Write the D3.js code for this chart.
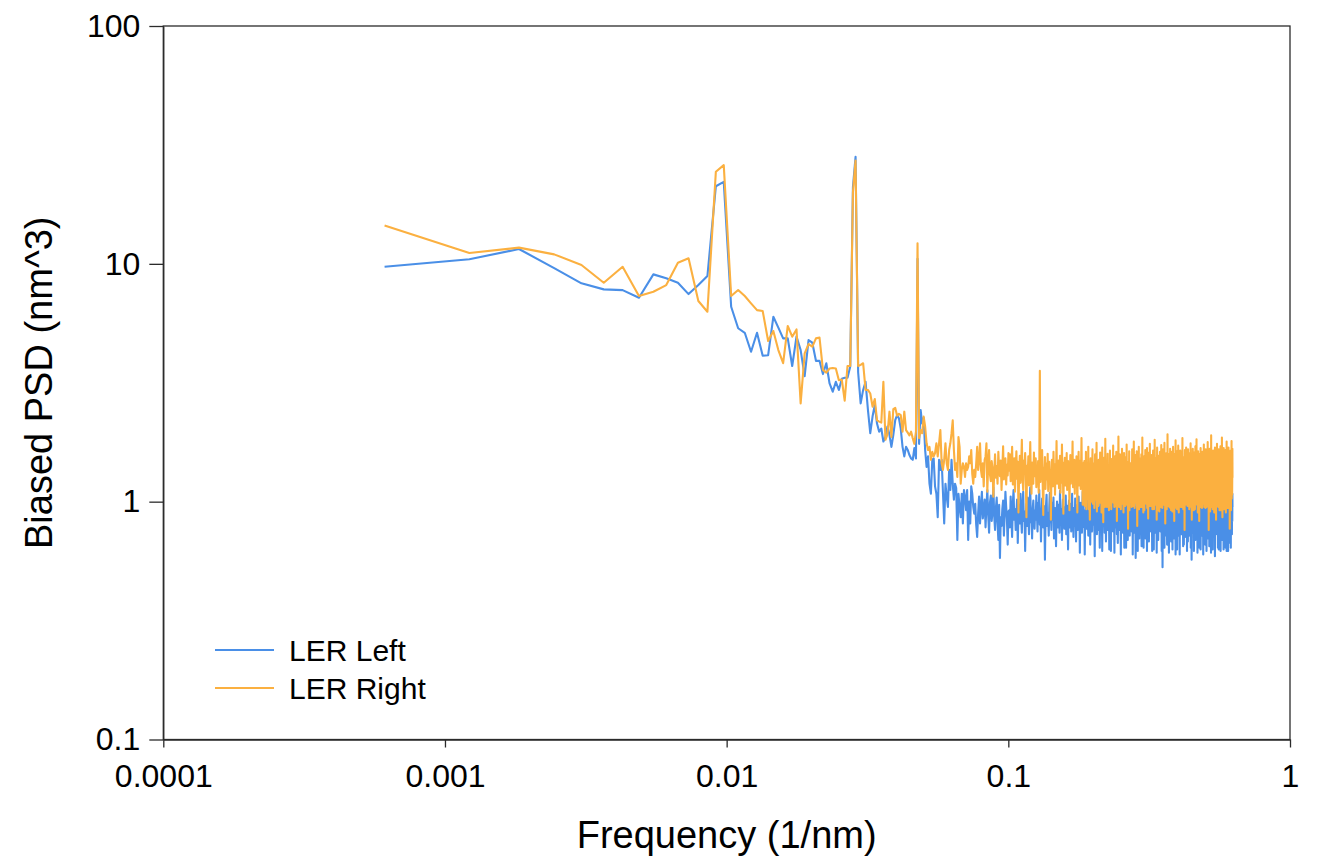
<!DOCTYPE html>
<html>
<head>
<meta charset="utf-8">
<script src="https://cdn.jsdelivr.net/npm/d3@7"></script>
<style>
  html, body { margin: 0; padding: 0; background: #fff; }
  svg { display: block; font-family: Arial, "Liberation Sans", sans-serif; }
</style>
</head>
<body>
<svg id="chart" width="1317" height="862"></svg>
<script>
// Line-edge roughness power spectral density, one-sided, for the left and right edges.
// Edge sampled every 0.8 nm over 2048 points -> bins k/(2048*0.8), k = 1..1024.
const sampleSpacing = 0.8;   // nm
const nSamples = 2048;

const seriesNames = ["LER Left", "LER Right"];
const seriesColors = ["#4a8fe7", "#fbb040"];

const xTickValues = [0.0001, 0.001, 0.01, 0.1, 1];
const xTickLabels = ["0.0001", "0.001", "0.01", "0.1", "1"];
const yTickValues = [0.1, 1, 10, 100];
const yTickLabels = ["0.1", "1", "10", "100"];

// Biased PSD (nm^3), LER Left
const lerLeft = [
  9.72, 10.45, 11.54, 9.6, 8.28, 7.81, 7.75, 7.20, 9.03, 8.69,
  8.33, 7.46, 8.14, 8.89, 21.2, 22.1, 6.60, 5.36, 5.13, 4.27,
  5.13, 4.11, 4.13, 5.99, 5.39, 4.86, 4.86, 3.72, 4.94, 4.34,
  3.37, 4.78, 4.66, 3.91, 3.91, 3.44, 3.82, 3.14, 2.90, 3.19,
  2.95, 3.29, 3.32, 3.32, 3.70, 21.0, 28.2, 3.5, 2.59, 2.95,
  3.19, 2.43, 1.94, 2.28, 2.55, 2.13, 1.97, 2.03, 1.79, 1.87,
  2.07, 1.91, 1.70, 1.91, 2.20, 2.31, 2.24, 2.03, 1.70, 1.55,
  1.70, 1.65, 1.57, 1.52, 1.50, 1.68, 1.52, 10.5,
  1.75, 2.43, 2.13, 2.25, 1.65, 1.40, 1.55, 1.19, 1.08, 1.50,
  1.52, 1.16, 1.08, 0.86, 1.50, 1.36, 1.50, 1.10, 0.81, 1.19,
  1.05, 0.95, 1.36, 1.12, 1.50, 1.19, 1.02, 1.19, 1.14, 0.69,
  1.08, 0.95, 0.86, 1.08, 0.81, 1.12, 1.05, 0.92, 1.12, 0.69,
  1.00, 0.81, 1.16, 1.08, 0.95, 0.89, 0.98, 0.80, 0.71, 0.89,
  1.05, 0.81, 0.95, 1.10, 0.85, 0.92, 1.02, 0.78, 0.96, 1.12,
  0.88, 0.74, 0.99, 1.06, 0.83, 0.91, 1.15, 0.87, 0.76, 0.94,
  1.04, 0.82, 0.69, 0.97, 0.58, 0.86, 0.79, 0.93, 1.01, 0.72,
  0.88, 1.10, 0.95, 0.84, 0.66, 0.91,
  0.92, 0.78, 1.05, 0.86, 0.71, 0.99, 1.12, 0.84, 0.93, 0.76, 0.88, 1.02, 0.67, 0.90, 0.97, 0.81, 1.08, 0.85, 0.74, 0.95,
  1.10, 0.83, 0.91, 0.62, 0.87, 0.98, 0.79, 1.04, 0.89, 0.73, 0.96, 1.15, 0.82, 0.88, 0.70, 0.94, 1.01, 0.86, 0.77, 0.92,
  0.84, 1.06, 0.90, 0.75, 0.99, 0.87, 1.12, 0.80, 0.93, 0.68, 0.91, 1.03, 0.85, 0.78, 0.96, 0.88, 0.57, 0.83, 0.97, 1.07,
  0.79, 0.90, 0.86, 0.72, 0.95, 1.09, 0.82, 0.88, 0.76, 0.99, 0.84, 0.92, 1.04, 0.70, 0.87, 0.94, 0.81, 0.65, 0.89, 1.00,
  0.85, 0.78, 0.97, 0.91, 0.74, 1.11, 0.86, 0.80, 0.93, 0.69, 0.88, 1.02, 0.83, 0.95, 0.77, 0.90, 0.84, 1.06, 0.73, 0.87,
  0.96, 0.82, 0.63, 0.89, 1.01, 0.85, 0.78, 0.92, 0.98, 0.75, 0.86, 1.08, 0.80, 0.90, 0.71, 0.94, 0.87, 0.79, 1.03, 0.84,
  0.68, 0.91, 0.85, 0.97, 0.76, 0.88, 1.05, 0.82, 0.93, 0.61, 0.86, 0.99, 0.80, 0.89, 0.74, 0.95, 1.10, 0.83, 0.87, 0.78,
  0.92, 0.60, 0.85, 1.00, 0.81, 0.94, 0.77, 0.88, 1.06, 0.84, 0.72, 0.90, 0.96, 0.79, 0.86, 0.66, 0.93, 1.02, 0.82, 0.89,
  0.75, 0.97, 0.84, 0.91, 1.09, 0.80, 0.87, 0.59, 0.94, 0.85, 0.78, 1.01, 0.88, 0.73, 0.92, 0.83, 0.99, 0.76, 0.86, 0.95,
  0.81, 0.64, 0.89, 1.04, 0.85, 0.77, 0.93, 0.88, 0.62, 0.96, 1.07, 0.82, 0.87, 0.79, 0.90, 0.74, 0.98, 0.84, 0.92, 0.68,
  0.86, 1.00, 0.80, 0.91, 0.76, 0.87, 1.12, 0.83, 0.94, 0.63, 0.88, 0.97, 0.79, 0.85, 0.62, 0.90, 1.03, 0.84, 0.77, 0.93,
  0.89, 0.75, 0.98, 0.82, 0.87, 0.61, 0.95, 1.06, 0.81, 0.90, 0.78, 0.86, 0.99, 0.73, 0.92, 0.84, 0.67, 0.88, 1.01, 0.80,
  0.94, 0.85, 0.76, 1.08, 0.83, 0.89, 0.60, 0.97, 0.86, 0.79, 0.93, 1.02, 0.82, 0.74, 0.90, 0.87, 0.96, 0.78, 0.64, 0.88,
  1.00, 0.81, 0.92, 0.85, 0.64, 0.95, 0.88, 1.10, 0.80, 0.86, 0.69, 0.91, 0.98, 0.83, 0.77, 0.94, 0.87, 0.72, 1.04, 0.84,
  0.90, 0.79, 0.86, 0.97, 0.75, 0.89, 0.82, 1.05, 0.60, 0.93, 0.85, 0.78, 0.96, 0.88, 0.74, 1.01, 0.83, 0.91, 0.80, 0.58,
  0.87, 0.95, 0.81, 0.76, 0.99, 0.86, 0.90, 0.62, 1.07, 0.84, 0.79, 0.92, 0.88, 0.70, 0.97, 0.85, 0.82, 1.03, 0.77, 0.89,
  0.93, 0.80, 0.65, 0.88, 0.96, 0.83, 0.78, 1.09, 0.86, 0.91, 0.64, 0.89, 0.99, 0.81, 0.87, 0.76, 0.94, 0.84, 0.70, 1.00,
  0.85, 0.92, 0.79, 0.88, 0.62, 0.97, 1.04, 0.82, 0.89, 0.77, 0.94, 0.86, 0.68, 0.91, 1.02, 0.80, 0.87, 0.75, 0.96, 0.84,
  0.90, 0.78, 0.86, 1.06, 0.81, 0.93, 0.62, 0.88, 0.95, 0.84, 0.76, 0.99, 0.87, 0.63, 0.92, 0.83, 0.89, 1.01, 0.79, 0.86,
  0.74, 0.94, 0.85, 0.80, 0.97, 0.88, 0.61, 1.03, 0.84, 0.90, 0.78, 0.86, 0.95, 0.69, 0.91, 0.82, 1.08, 0.87, 0.76, 0.93,
  0.81, 0.89, 0.98, 0.75, 0.86, 0.92, 0.79, 1.00, 0.84, 0.62, 0.95, 0.87, 0.80, 0.53, 0.90, 0.83, 0.96, 0.77, 0.88, 1.05,
  0.82, 0.91, 0.64, 0.87, 0.99, 0.85, 0.78, 0.93, 1.06, 0.80, 0.89, 0.72, 0.96, 0.84, 0.88, 0.66, 0.92, 1.02, 0.81, 0.86,
  0.77, 0.95, 0.83, 0.90, 0.61, 0.98, 0.86, 0.81, 1.04, 0.88, 0.75, 0.93, 0.85, 0.79, 0.97, 0.68, 0.89, 0.84, 1.01, 0.80,
  0.92, 0.86, 0.63, 0.95, 0.82, 1.08, 0.87, 0.78, 0.90, 0.84, 0.96, 0.70, 0.88, 0.99, 0.81, 0.85, 0.76, 0.93, 0.60, 0.89,
  0.97, 0.83, 0.88, 0.79, 1.02, 0.86, 0.63, 0.91, 0.84, 0.95, 0.80, 0.87, 1.05, 0.72, 0.90, 0.85, 0.78, 0.94, 0.88, 0.82,
  0.60, 0.93, 0.86, 1.00, 0.81, 0.89, 0.76, 0.96, 0.84, 0.91, 0.73, 0.87, 0.98, 0.80, 0.85, 1.07, 0.78, 0.92, 0.83, 0.65,
  0.88, 0.95, 0.82, 0.66, 0.90, 1.03, 0.85, 0.79, 0.94, 0.87, 0.71, 0.99, 0.83, 0.89, 0.75, 0.92, 0.86, 1.01, 0.80, 0.84,
  0.96, 0.62, 0.89, 0.85, 0.81, 0.97, 0.68, 0.91, 1.05, 0.83, 0.87, 0.78, 0.93, 0.86, 0.72, 0.99, 0.84, 0.90, 0.79, 0.95,
  0.82, 0.88, 1.02, 0.64, 0.91, 0.85, 0.80, 0.94, 0.57, 0.87, 0.98, 0.83, 0.89, 0.74, 0.92, 1.06, 0.81, 0.86, 0.78, 0.90,
  0.84, 0.97, 0.62, 0.88, 0.93, 0.80, 0.86, 1.00, 0.77, 0.91, 0.85, 0.69, 0.95, 0.82, 0.89, 1.03, 0.79, 0.87, 0.92, 0.75,
  0.90, 0.83, 0.96, 0.86, 0.61, 0.99, 0.84, 0.88, 0.78, 1.04, 0.82, 0.93, 0.87, 0.76, 0.91, 0.85, 0.64, 0.94, 0.81, 0.89,
  0.98, 0.80, 0.87, 0.92, 0.63, 0.85, 1.07, 0.83, 0.90, 0.79, 0.95, 0.88, 0.72, 0.86, 1.00, 0.82, 0.91, 0.77, 0.84, 0.96,
  0.85, 0.60, 0.93, 0.88, 0.81, 1.01, 0.86, 0.78, 0.94, 0.83, 0.89, 0.75, 0.97, 0.84, 0.66, 0.90, 1.05, 0.82, 0.87, 0.79,
  0.92, 0.86, 0.99, 0.62, 0.88, 0.84, 0.95, 0.80, 1.03, 0.87, 0.77, 0.91, 0.85, 0.70, 0.96, 0.83, 0.89, 0.78, 1.00, 0.86,
  0.81, 0.94, 0.65, 0.90, 0.87, 1.06, 0.82, 0.88, 0.72, 0.95, 0.85, 0.79, 0.98, 0.84, 0.61, 0.91, 0.86, 1.02, 0.80, 0.89,
  0.93, 0.77, 0.86, 0.99, 0.83, 0.89, 0.63, 0.92, 1.04, 0.85, 0.80, 0.96, 0.87, 0.71, 0.90, 0.84, 0.97, 0.79, 0.88, 0.82,
  0.95, 0.86, 0.59, 0.91, 1.01, 0.84, 0.78, 0.93, 0.87, 0.75, 0.98, 0.83, 0.89, 1.08, 0.81, 0.86, 0.73, 0.94, 0.88, 0.80,
  0.90, 0.97, 0.82, 0.87, 0.64, 1.00, 0.85, 0.91, 0.79, 0.94, 0.63, 0.88, 0.84, 0.99, 0.81, 0.92, 0.86, 0.74, 1.05, 0.83,
  0.87, 0.79, 0.95, 0.89, 0.62, 0.93, 0.85, 1.02, 0.80, 0.88, 0.96, 0.77, 0.84, 0.91, 0.69, 0.98, 0.86, 0.82, 0.94, 0.90,
  0.76, 1.03, 0.84, 0.89, 0.81, 0.95, 0.87, 0.63, 0.92, 0.99, 0.83, 0.88, 0.78, 1.06, 0.85, 0.91, 0.70, 0.94, 0.86, 0.80,
  0.97, 0.84, 0.89, 0.64, 0.93, 1.01, 0.82, 0.87, 0.79, 0.95, 0.86, 0.62, 0.90, 0.98, 0.83, 0.88, 0.77, 1.04, 0.85, 0.92,
  0.81, 0.94, 0.87, 0.62, 0.99, 0.85, 0.90, 1.07, 0.83, 0.78, 0.96, 0.88, 0.74, 0.92, 0.86, 1.00, 0.80, 0.89, 0.84, 0.67,
  0.93, 0.87, 1.02, 0.82, 0.90, 0.64, 0.95, 0.88, 0.84, 1.05, 0.79, 0.91, 0.86, 0.98, 0.73, 0.94, 0.89, 0.83, 1.08, 0.95
];

// Biased PSD (nm^3), LER Right
const lerRight = [
  14.5, 11.1, 11.7, 10.96, 9.89, 8.33, 9.72, 7.32, 7.63, 8.14,
  10.1, 10.55, 6.98, 6.29, 24.4, 26.0, 7.32, 7.76, 7.32, 6.82,
  6.39, 6.33, 4.74, 5.22, 4.34, 3.82, 5.48, 4.94, 5.30, 2.59,
  4.20, 4.60, 4.48, 4.86, 4.90, 3.58, 3.49, 3.63, 3.65, 3.63,
  3.24, 3.26, 2.66, 3.72, 3.72, 20.0, 27.2, 3.72, 3.76, 3.82,
  2.95, 2.95, 2.85, 2.51, 2.70, 2.20, 2.17, 2.15, 3.19, 1.82,
  1.92, 2.39, 1.87, 2.45, 2.48, 2.30, 2.34, 2.31, 1.97, 2.39,
  2.00, 1.95, 1.90, 1.97, 1.85, 1.75, 1.97, 12.2,
  1.85, 2.00, 1.94, 2.28, 2.07, 1.76, 1.65, 1.70, 1.50, 1.62,
  1.55, 1.60, 1.76, 1.55, 1.76, 2.00, 1.45, 1.36, 1.50, 1.76,
  1.45, 1.36, 1.65, 1.76, 1.94, 2.20, 1.65, 1.36, 1.45, 1.27,
  1.87, 1.70, 1.19, 1.36, 1.45, 1.40, 1.27, 1.45, 1.36, 1.40,
  1.55, 1.45, 1.65, 1.31, 1.19, 1.36, 1.27, 1.45, 1.70, 1.36,
  1.50, 1.76, 1.36, 1.27, 1.45, 1.16, 1.50, 1.55, 1.76, 1.10,
  1.45, 1.65, 1.30, 1.22, 1.48, 1.38, 1.05, 1.33, 1.58, 1.26,
  1.41, 1.19, 1.62, 1.35, 1.28, 1.49, 1.12, 1.37, 1.71, 1.24,
  1.31, 1.52, 1.18, 1.43, 1.29, 1.60,
  1.35, 1.58, 1.22, 1.41, 1.70, 1.18, 1.29, 1.52, 1.10, 1.38, 1.63, 1.25, 1.47, 0.90, 1.32, 1.56, 1.20, 1.44, 1.82, 1.27,
  1.12, 1.49, 1.36, 1.60, 1.21, 0.86, 1.42, 1.30, 1.55, 1.17, 1.39, 1.78, 1.24, 1.08, 1.46, 1.33, 1.19, 1.61, 1.28, 1.40,
  1.52, 1.15, 1.34, 1.26, 1.48, 1.09, 1.37, 3.55, 1.21, 1.43, 1.30, 1.65, 1.18, 0.88, 1.39, 1.27, 1.54, 1.13, 1.35, 1.45,
  1.24, 1.59, 1.11, 1.32, 1.47, 1.20, 1.36, 0.84, 1.28, 1.50, 1.41, 1.16, 1.62, 1.26, 1.34, 1.07, 1.44, 1.30, 1.80, 1.19,
  1.38, 1.23, 1.49, 1.14, 1.31, 1.56, 1.09, 1.42, 1.27, 1.74, 1.20, 1.35, 0.89, 1.46, 1.29, 1.53, 1.17, 1.40, 1.25, 1.60,
  1.12, 1.33, 1.48, 1.22, 1.39, 0.92, 1.30, 1.57, 1.19, 1.44, 1.26, 1.36, 1.79, 1.15, 1.41, 1.23, 1.50, 1.08, 1.32, 1.46,
  1.21, 1.55, 1.34, 0.90, 1.43, 1.28, 1.62, 1.17, 1.37, 1.25, 1.49, 1.13, 1.40, 1.85, 1.22, 1.31, 0.97, 1.45, 1.29, 1.35,
  1.48, 0.96, 1.31, 1.12, 1.62, 0.93, 1.25, 1.41, 1.03, 1.19, 1.70, 0.93, 1.36, 1.08, 0.84, 1.29, 1.52, 1.00, 1.38, 1.15,
  1.22, 1.66, 0.98, 1.33, 1.10, 1.45, 0.94, 1.21, 1.58, 1.02, 1.30, 1.13, 1.77, 0.91, 1.26, 1.40, 1.06, 0.96, 1.50, 1.17,
  1.35, 0.99, 1.61, 1.20, 1.07, 1.43, 0.90, 1.27, 1.69, 1.01, 1.34, 0.82, 1.24, 1.53, 1.11, 1.31, 0.95, 1.84, 1.16, 1.28,
  1.05, 1.47, 0.95, 1.25, 1.59, 1.02, 1.18, 1.39, 0.92, 1.30, 1.12, 1.64, 0.97, 1.36, 1.21, 0.93, 1.51, 1.09, 1.42, 1.04,
  1.27, 1.72, 0.99, 1.15, 1.38, 0.95, 1.23, 1.55, 1.08, 1.33, 0.96, 1.62, 1.19, 0.83, 1.29, 1.46, 1.06, 1.22, 1.88, 1.11,
  0.95, 1.37, 1.17, 1.58, 1.01, 1.28, 0.93, 1.44, 1.13, 1.24, 1.67, 0.98, 1.32, 1.07, 1.49, 0.90, 1.20, 1.60, 1.10, 1.39,
  1.16, 0.96, 1.30, 1.54, 1.03, 1.22, 1.74, 0.97, 1.35, 1.14, 1.27, 0.77, 1.19, 1.47, 1.06, 1.63, 0.92, 1.33, 1.12, 1.25,
  1.45, 1.00, 1.21, 1.41, 0.95, 1.28, 1.66, 1.07, 1.17, 1.43, 0.96, 1.25, 1.79, 1.04, 1.34, 0.94, 1.23, 1.57, 1.13, 1.30,
  0.99, 1.39, 1.18, 1.63, 1.08, 0.79, 1.26, 1.48, 1.03, 1.31, 1.15, 1.70, 0.93, 1.27, 1.10, 1.52, 0.95, 1.21, 1.44, 1.06,
  1.24, 1.58, 0.95, 1.32, 1.14, 1.86, 1.01, 1.20, 1.46, 0.90, 1.29, 1.09, 1.55, 0.92, 1.17, 1.38, 1.04, 1.65, 1.23, 1.12,
  1.40, 0.98, 1.27, 1.13, 1.68, 0.94, 1.25, 1.49, 1.07, 0.85, 1.36, 1.18, 1.61, 1.02, 1.22, 1.11, 1.75, 0.96, 1.31, 1.16,
  0.96, 1.42, 1.21, 1.05, 1.57, 1.15, 1.29, 0.93, 1.37, 1.09, 1.64, 1.00, 1.24, 1.50, 0.93, 1.27, 1.12, 1.82, 1.03, 1.33,
  1.19, 1.53, 0.97, 1.28, 1.13, 1.44, 0.84, 1.23, 1.69, 1.06, 1.32, 1.16, 0.92, 1.56, 1.10, 1.38, 1.01, 1.25, 0.91, 1.47,
  1.17, 1.62, 1.02, 1.30, 0.95, 1.41, 1.20, 1.73, 0.99, 1.26, 1.12, 1.51, 0.94, 1.35, 1.15, 1.66, 1.07, 1.22, 1.45, 0.97,
  1.29, 1.10, 1.77, 1.03, 1.37, 1.18, 0.81, 1.25, 1.54, 0.99, 1.31, 1.14, 1.60, 0.93, 1.23, 1.42, 1.06, 1.92, 1.13, 1.28,
  0.96, 1.35, 1.19, 1.58, 1.02, 1.26, 0.95, 1.44, 1.12, 1.30, 1.67, 0.94, 1.22, 1.09, 1.49, 0.92, 1.28, 1.16, 1.62, 1.04,
  1.25, 1.43, 0.91, 1.33, 1.14, 1.70, 1.01, 1.21, 1.52, 1.08, 1.27, 0.83, 1.39, 1.18, 1.59, 0.98, 1.30, 1.11, 1.81, 1.03,
  1.22, 1.46, 0.94, 1.26, 1.10, 1.63, 0.93, 1.32, 1.17, 1.42, 1.01, 1.23, 1.72, 1.06, 1.35, 0.90, 1.27, 1.55, 1.13, 1.20,
  1.38, 0.99, 1.28, 1.64, 1.09, 1.21, 0.95, 1.43, 1.16, 1.34, 1.04, 1.57, 0.95, 1.24, 1.12, 1.85, 1.05, 1.30, 1.18, 1.48,
  0.93, 1.27, 1.14, 1.54, 1.02, 1.36, 1.22, 0.76, 1.31, 1.65, 1.07, 1.23, 1.44, 0.97, 1.29, 1.15, 1.69, 1.01, 1.35, 1.17,
  1.26, 1.57, 1.03, 1.19, 0.96, 1.41, 1.11, 1.66, 1.00, 1.30, 1.16, 1.49, 1.06, 1.24, 0.93, 1.37, 1.20, 1.60, 1.09, 1.32,
  1.02, 1.23, 1.76, 1.12, 1.33, 0.95, 1.45, 1.18, 1.27, 0.84, 1.39, 1.07, 1.56, 1.21, 1.13, 1.67, 0.98, 1.29, 1.15, 1.43,
  1.20, 0.92, 1.35, 1.61, 1.08, 1.26, 1.14, 1.50, 0.93, 1.28, 1.10, 1.71, 1.01, 1.31, 1.19, 1.46, 1.05, 1.24, 1.83, 1.12,
  1.31, 0.97, 1.22, 1.48, 1.13, 1.36, 0.90, 1.27, 1.63, 1.06, 1.23, 1.42, 0.99, 1.55, 1.17, 0.83, 1.34, 1.14, 1.59, 1.09,
  1.25, 1.44, 1.03, 1.28, 1.68, 0.95, 1.21, 1.12, 1.39, 1.02, 1.57, 1.18, 1.33, 0.94, 1.26, 1.10, 1.62, 1.05, 1.35, 1.22,
  1.15, 1.51, 0.98, 1.30, 1.23, 1.74, 1.08, 1.27, 0.95, 1.40, 1.17, 1.58, 1.01, 1.29, 1.12, 1.46, 0.94, 1.24, 1.66, 1.16,
  1.36, 1.05, 1.25, 0.95, 1.47, 1.20, 1.13, 1.60, 1.02, 1.32, 1.22, 1.78, 1.09, 1.28, 0.96, 1.42, 1.17, 1.53, 0.76, 1.24,
  1.11, 1.45, 1.27, 0.99, 1.34, 1.67, 1.15, 1.23, 0.91, 1.40, 1.07, 1.55, 1.19, 1.30, 1.03, 1.90, 1.21, 1.12, 1.38, 1.26,
  0.95, 1.31, 1.16, 1.58, 1.08, 1.27, 0.93, 1.37, 1.20, 1.64, 1.04, 1.24, 1.45, 0.97, 1.33, 1.14, 1.52, 0.90, 1.28, 1.18,
  1.40, 1.09, 1.69, 1.03, 1.23, 1.35, 0.93, 1.48, 1.15, 1.26, 0.84, 1.39, 1.21, 1.60, 1.07, 1.29, 1.13, 1.75, 1.00, 1.24,
  1.34, 1.16, 1.53, 0.96, 1.27, 1.11, 1.44, 0.95, 1.30, 1.66, 1.05, 1.22, 1.38, 1.02, 1.51, 1.18, 0.92, 1.28, 1.14, 1.59,
  1.07, 1.36, 1.21, 1.71, 0.99, 1.29, 1.15, 1.47, 0.92, 1.25, 1.56, 1.10, 1.32, 1.19, 1.86, 1.04, 1.23, 1.40, 0.86, 1.28,
  1.18, 1.60, 1.04, 1.33, 1.22, 1.45, 0.97, 1.26, 1.68, 1.12, 1.30, 0.93, 1.38, 1.20, 1.57, 1.06, 1.25, 1.49, 1.15, 1.35,
  1.00, 1.24, 1.65, 1.11, 1.29, 0.90, 1.43, 1.21, 1.54, 1.08, 1.27, 1.79, 1.02, 1.32, 1.16, 1.58, 0.94, 1.23, 1.41, 1.14,
  1.31, 1.08, 1.50, 0.94, 1.26, 1.17, 1.69, 1.03, 1.36, 1.23, 1.13, 1.61, 0.98, 1.29, 1.18, 1.46, 0.77, 1.25, 1.56, 1.10,
  1.22, 1.40, 1.05, 1.64, 1.15, 1.34, 0.92, 1.28, 1.52, 1.11, 1.24, 1.80, 1.03, 1.37, 1.17, 1.58, 1.07, 1.30, 1.67, 1.26
];

// Frequency of each PSD bin (1/nm)
const frequency = lerLeft.map((_, i) => (i + 1) / (nSamples * sampleSpacing));

const svg = d3.select("#chart");
const plot = { left: 163.3, right: 1290, top: 26, bottom: 739.5 };

const x = d3.scaleLog().domain([0.0001, 1]).range([plot.left, plot.right]);
const y = d3.scaleLog().domain([0.1, 100]).range([plot.bottom, plot.top]);

const axisColor = "#2b2b2b";

// Frame around the plotting area
svg.append("rect")
  .attr("x", plot.left).attr("y", plot.top)
  .attr("width", plot.right - plot.left).attr("height", plot.bottom - plot.top)
  .attr("fill", "none").attr("stroke", axisColor).attr("stroke-width", 1.3);

// Data lines
const line = d3.line()
  .x((d, i) => x(frequency[i]))
  .y(d => y(d));

[lerLeft, lerRight].forEach((series, s) => {
  svg.append("path")
    .datum(series)
    .attr("fill", "none")
    .attr("stroke", seriesColors[s])
    .attr("stroke-width", 2.1)
    .attr("stroke-linejoin", "round")
    .attr("d", line);
});

// Bottom axis
const xAxis = d3.axisBottom(x)
  .tickValues(xTickValues)
  .tickFormat((d, i) => xTickLabels[i])
  .tickSizeInner(8).tickSizeOuter(0).tickPadding(17);
const gx = svg.append("g").attr("transform", `translate(0,${plot.bottom})`).call(xAxis);

// Left axis
const yAxis = d3.axisLeft(y)
  .tickValues(yTickValues)
  .tickFormat((d, i) => yTickLabels[i])
  .tickSizeInner(14).tickSizeOuter(0).tickPadding(9);
const gy = svg.append("g").attr("transform", `translate(${plot.left},0)`).call(yAxis);

[gx, gy].forEach(g => {
  g.select(".domain").attr("stroke", axisColor).attr("stroke-width", 1.3);
  g.selectAll(".tick line").attr("stroke", axisColor).attr("stroke-width", 1.3);
  g.selectAll(".tick text")
    .attr("fill", "#000")
    .style("font-size", "32px")
    .style("font-family", "Arial, 'Liberation Sans', sans-serif");
});

// Axis titles
svg.append("text")
  .attr("x", (plot.left + plot.right) / 2)
  .attr("y", 848)
  .attr("text-anchor", "middle")
  .style("font-size", "38px")
  .attr("fill", "#000")
  .text("Frequency (1/nm)");

svg.append("text")
  .attr("transform", `translate(52,${(plot.top + plot.bottom) / 2}) rotate(-90)`)
  .attr("text-anchor", "middle")
  .style("font-size", "38px")
  .attr("fill", "#000")
  .text("Biased PSD (nm^3)");

// Legend
const legend = svg.append("g").attr("transform", "translate(215,650)");
seriesNames.forEach((name, i) => {
  const row = legend.append("g").attr("transform", `translate(0,${i * 38})`);
  row.append("line")
    .attr("x1", 0).attr("x2", 59).attr("y1", 0).attr("y2", 0)
    .attr("stroke", seriesColors[i]).attr("stroke-width", 2.1);
  row.append("text")
    .attr("x", 74).attr("y", 10.5)
    .style("font-size", "30px")
    .attr("fill", "#000")
    .text(name);
});
</script>
</body>
</html>
